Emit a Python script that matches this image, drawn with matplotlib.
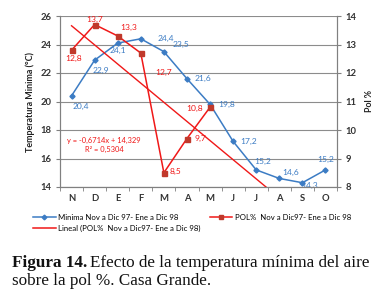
import numpy as np
import matplotlib
matplotlib.use("Agg")
import matplotlib.pyplot as plt

plt.rcParams["font.family"] = ["Lato", "DejaVu Sans"]

# --- data ---
months = ["N", "D", "E", "F", "M", "A", "M", "J", "J", "A", "S", "O"]
temp_min = [20.4, 22.9, 24.1, 24.4, 23.5, 21.6, 19.8, 17.2, 15.2, 14.6, 14.3, 15.2]
pol = [12.8, 13.7, 13.3, 12.7, 8.5, 9.7, 10.8]

# label offsets in pixels (dx, dy) relative to each point
temp_offsets = [(9, -11), (6, -10), (0, -7), (25, 0), (17, 7), (16, 0),
                (17, 0), (15, 0), (6, 8), (11, 6), (7, -3), (0, 10)]
pol_offsets = [(2, -8), (0, 5), (11, 8), (23, -19), (12, 1), (13, 0), (-15, -1)]

BLUE = "#3C7CC4"
RED = "#F01818"
DARK_RED = "#C0392B"
PX = 0.72  # points per pixel at dpi 100

fig = plt.figure(figsize=(3.83, 2.95), dpi=100)
ax = fig.add_axes([60 / 383, 1 - 187 / 295, 277 / 383, 171 / 295])
ax2 = ax.twinx()

x = np.arange(len(months))
ax.plot(x, temp_min, color=BLUE, lw=1.1, marker="D", ms=2.6, zorder=3)
xp = np.arange(len(pol))
ax2.plot(xp, pol, color=RED, lw=1.1, marker="s", ms=3.6, mfc=DARK_RED,
         mec=DARK_RED, zorder=3)

# linear trendline of the pol series (Excel style, x = 1..n)
slope, intercept = np.polyfit(xp + 1, pol, 1)
xt = np.arange(1, len(months) + 1)
ax2.plot(xt - 1, slope * xt + intercept, color=RED, lw=1.0, zorder=2)

for xi, v, (dx, dy) in zip(x, temp_min, temp_offsets):
    ax.annotate(f"{v:.1f}".replace(".", ","), (xi, v), xytext=(dx * PX, dy * PX),
                textcoords="offset points", ha="center", va="center",
                fontsize=6.1, color=BLUE)
for xi, v, (dx, dy) in zip(xp, pol, pol_offsets):
    ax2.annotate(f"{v:.1f}".replace(".", ","), (xi, v), xytext=(dx * PX, dy * PX),
                 textcoords="offset points", ha="center", va="center",
                 fontsize=6.1, color=RED)

ax2.text(0.159, 0.275, f"y = {slope:.4f}x + {intercept:.3f}".replace(".", ","),
         transform=ax.transAxes, ha="center", va="center", fontsize=5.4, color=RED)
ax2.text(0.162, 0.222, "R² = 0,5304", transform=ax.transAxes, ha="center",
         va="center", fontsize=5.4, color=RED)

ax.set_xlim(-0.5, len(months) - 0.5)
ax.set_ylim(14, 26)
ax2.set_ylim(8, 14)
ax.set_yticks(range(14, 27, 2))
ax2.set_yticks(range(8, 15))
ax.set_xticks(x)
ax.set_xticklabels(months)
ax.set_xticks(np.arange(-0.5, len(months), 1), minor=True)
ax.tick_params(axis="x", which="major", length=0, pad=5)
ax.tick_params(axis="x", which="minor", length=3, color="#808080")
ax.tick_params(axis="y", length=3, color="#808080", pad=3)
ax2.tick_params(axis="y", length=3, color="#808080", pad=3)
for a in (ax, ax2):
    for lab in a.get_xticklabels() + a.get_yticklabels():
        lab.set_fontsize(6.8)
        lab.set_fontweight("bold")
        lab.set_color("#333333")
    for s in a.spines.values():
        s.set_color("#808080")
        s.set_linewidth(0.8)
    a.spines["top"].set_visible(False)

ax.grid(axis="y", color="#8C8C8C", lw=0.8)
ax.set_axisbelow(True)
ax.set_ylabel("Temperatura Minima (°C)", fontsize=6.4, fontweight="bold",
              color="#222222", labelpad=4)
ax2.set_ylabel("Pol %", fontsize=6.4, fontweight="bold", color="#222222", labelpad=6)

h1 = plt.Line2D([], [], color=BLUE, lw=1.1, marker="D", ms=2.4)
h2 = plt.Line2D([], [], color=RED, lw=1.1, marker="s", ms=3.2, mfc=DARK_RED, mec=DARK_RED)
h3 = plt.Line2D([], [], color=RED, lw=1.1)
fig.legend([h1, h3, h2],
           ["Minima Nov a Dic 97- Ene a Dic 98",
            "Lineal (POL%  Nov a Dic97- Ene a Dic 98)",
            "POL%  Nov a Dic97- Ene a Dic 98"],
           loc="upper left", bbox_to_anchor=(33 / 383, 1 - 214 / 295), ncol=2,
           frameon=False, fontsize=5.6, handlelength=2.9, handletextpad=0.3,
           columnspacing=1.2, labelspacing=0.5, borderpad=0, borderaxespad=0)

# caption with bold prefix
cap_y1 = 1 - 267 / 295
cap_y2 = 1 - 285 / 295
t1 = fig.text(12 / 383, cap_y1, "Figura 14.", fontsize=12.3, fontweight="bold",
              family="Liberation Serif", va="baseline", color="#111111")
fig.canvas.draw()
bb = t1.get_window_extent()
fig.text((bb.x1 + 3) / 383, cap_y1, "Efecto de la temperatura mínima del aire",
         fontsize=12.3, family="Liberation Serif", va="baseline", color="#111111")
fig.text(12 / 383, cap_y2, "sobre la pol %. Casa Grande.", fontsize=12.3,
         family="Liberation Serif", va="baseline", color="#111111")

fig.savefig("out.png", dpi=100)
